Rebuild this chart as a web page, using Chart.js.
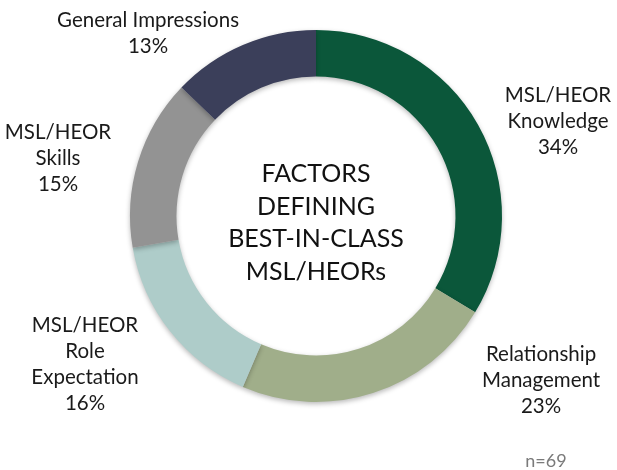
<!DOCTYPE html>
<html>
<head>
<meta charset="utf-8">
<script src="https://cdn.jsdelivr.net/npm/chart.js@4/dist/chart.umd.min.js"></script>
<style>
  html, body { margin: 0; padding: 0; background: #ffffff; }
  #wrap { position: relative; width: 617px; height: 470px; }
</style>
</head>
<body>
<div id="wrap"><canvas id="c" width="617" height="470"></canvas></div>
<script>
// ---- data ----
const categories = ['MSL/HEOR\nKnowledge', 'Relationship\nManagement', 'MSL/HEOR\nRole\nExpectation', 'MSL/HEOR\nSkills', 'General Impressions'];
const values = [34, 23, 16, 15, 13];
const centerTitle = ['FACTORS', 'DEFINING', 'BEST-IN-CLASS', 'MSL/HEORs'];
const footnote = 'n=69';

// ---- styles / layout ----
const colors = ['#0B573A', '#A0AE8A', '#AECCC9', '#939393', '#3B3F5A'];
// label block centre relative to doughnut centre, in units of outer radius
const labelAnchors = [
  [1.301, -0.511],
  [1.210, 0.882],
  [-1.242, 0.796],
  [-1.387, -0.312],
  [-0.903, -0.984]
];
const FONT = 'Lato, "Source Sans Pro", "Open Sans", sans-serif';

const labelPlugin = {
  id: 'labels',
  beforeDatasetsDraw(chart) {
    const ctx = chart.ctx;
    ctx.save();
    ctx.shadowColor = 'rgba(0,0,0,0.28)';
    ctx.shadowBlur = 5;
    ctx.shadowOffsetY = 2;
  },
  afterDatasetsDraw(chart) {
    chart.ctx.restore();
  },
  afterDraw(chart) {
    const ctx = chart.ctx;
    const arc = chart.getDatasetMeta(0).data[0];
    const cx = arc.x, cy = arc.y, R = arc.outerRadius;
    ctx.save();
    ctx.textAlign = 'center';
    ctx.textBaseline = 'middle';
    // outer labels
    ctx.fillStyle = '#1a1a1a';
    ctx.font = '20.5px ' + FONT;
    const lh = 26;
    categories.forEach((cat, i) => {
      const lines = cat.split('\n').concat([values[i] + '%']);
      const bx = cx + labelAnchors[i][0] * R;
      const by = cy + labelAnchors[i][1] * R;
      const top = by - (lines.length - 1) * lh / 2;
      lines.forEach((ln, j) => ctx.fillText(ln, bx, top + j * lh));
    });
    // centre title
    ctx.font = '25px ' + FONT;
    ctx.fillStyle = '#111111';
    const clh = 32.5;
    const ctop = cy - (centerTitle.length - 1) * clh / 2 + 7;
    centerTitle.forEach((ln, j) => ctx.fillText(ln, cx, ctop + j * clh));
    // footnote
    ctx.font = '18px ' + FONT;
    ctx.fillStyle = '#7a7a7a';
    ctx.fillText(footnote, cx + 1.236 * R, cy + 1.317 * R);
    ctx.restore();
  }
};

new Chart(document.getElementById('c'), {
  type: 'doughnut',
  data: {
    labels: categories.map(c => c.replace(/\n/g, ' ')),
    datasets: [{
      data: values,
      backgroundColor: colors,
      borderWidth: 0,
      hoverOffset: 0
    }]
  },
  options: {
    responsive: false,
    animation: false,
    cutout: '75%',
    rotation: 0,
    layout: { padding: { left: 130, right: 115, top: 30, bottom: 68 } },
    plugins: {
      legend: { display: false },
      tooltip: { enabled: false }
    }
  },
  plugins: [labelPlugin]
});
</script>
</body>
</html>
